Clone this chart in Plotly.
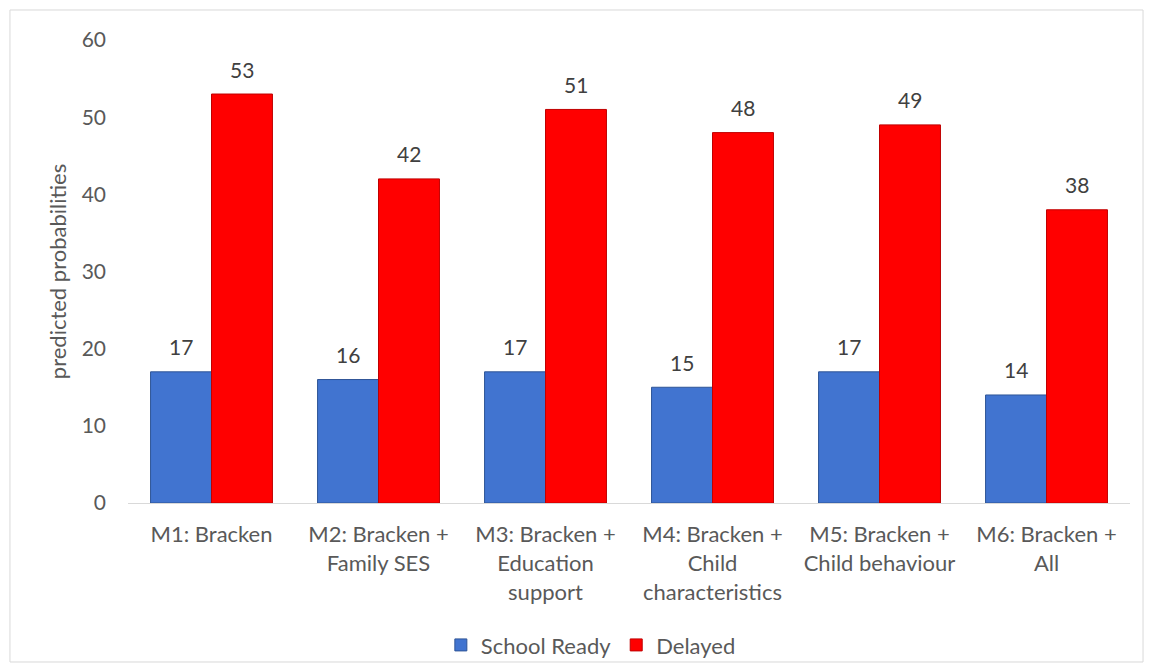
import plotly.graph_objects as go

categories = ["M1: Bracken", "M2: Bracken +<br>Family SES", "M3: Bracken +<br>Education<br>support",
              "M4: Bracken +<br>Child<br>characteristics", "M5: Bracken +<br>Child behaviour", "M6: Bracken +<br>All"]
school_ready = [17, 16, 17, 15, 17, 14]
delayed = [53, 42, 51, 48, 49, 38]
y_ticks = [0, 10, 20, 30, 40, 50, 60]

FONT = "Lato, Open Sans, sans-serif"
fig = go.Figure()
fig.add_trace(go.Bar(name="School Ready", x=categories, y=school_ready,
                     marker=dict(color="#4174D0", line=dict(color="#2F5597", width=1))))
fig.add_trace(go.Bar(name="Delayed", x=categories, y=delayed,
                     marker=dict(color="#FF0000", line=dict(color="#C00000", width=1))))

annotations = []
for series, shift in ((school_ready, -30.5), (delayed, 30.5)):
    for c, v in zip(categories, series):
        annotations.append(dict(x=c, y=v, xref="x", yref="y", text=str(v), showarrow=False,
                                xshift=shift, yshift=25, yanchor="middle",
                                font=dict(size=21, color="#404040", family=FONT)))

fig.update_layout(
    width=1154, height=672, barmode="group", bargap=0.27, bargroupgap=0,
    paper_bgcolor="white", plot_bgcolor="white",
    margin=dict(l=128, r=24, t=40, b=169, autoexpand=False),
    font=dict(family=FONT, size=22, color="#595959"),
    legend=dict(orientation="h", xref="container", yref="container", x=0.512, xanchor="center",
                y=0.04, yanchor="middle", bgcolor="rgba(0,0,0,0)",
                font=dict(size=22, color="#595959"), itemwidth=30, traceorder="normal"),
    xaxis=dict(showline=True, linecolor="#D9D9D9", linewidth=1, ticks="", showgrid=False,
               tickfont=dict(size=22, color="#595959"), ticklabelstandoff=12),
    yaxis=dict(range=[0, 60], tickvals=y_ticks, showgrid=False, zeroline=False, showline=False,
               title=dict(text="predicted probabilities", font=dict(size=22, color="#595959"), standoff=8),
               tickfont=dict(size=21, color="#595959"), ticklabelstandoff=21),
    annotations=annotations,
    shapes=[dict(type="rect", xref="paper", yref="paper", x0=-0.1178, x1=1.013, y0=-0.3434, y1=1.0648,
                 line=dict(color="#D9D9D9", width=1), fillcolor="rgba(0,0,0,0)", layer="below")],
)
fig.write_html("out.html")
